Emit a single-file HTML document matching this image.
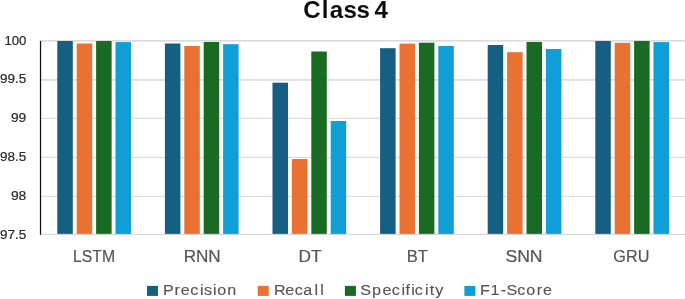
<!DOCTYPE html>
<html lang="en">
<head>
<meta charset="utf-8">
<title>Class 4</title>
<style>
html,body{margin:0;padding:0;background:#fff;}
body{width:685px;height:299px;overflow:hidden;}
svg{display:block;}
text{font-family:"Liberation Sans",sans-serif;}
.ax{font-size:11.9px;fill:#2b2b2b;stroke:#2b2b2b;stroke-width:0.2px;}
.cat{font-size:16px;fill:#555555;stroke:#555555;stroke-width:0.2px;}
.leg{font-size:15.5px;fill:#555555;stroke:#555555;stroke-width:0.15px;}
.title{font-size:23.4px;font-weight:bold;fill:#0d0d0d;}
</style>
</head>
<body>
<svg width="685" height="299" viewBox="0 0 685 299">
<rect x="0" y="0" width="685" height="299" fill="#ffffff"/>
<g id="gridlines">
<rect x="40.5" y="40.05" width="645" height="1.6" fill="#dbdbdb"/>
<rect x="40.5" y="79.10" width="645" height="1.6" fill="#dbdbdb"/>
<rect x="40.5" y="117.80" width="645" height="1.2" fill="#dbdbdb"/>
<rect x="40.5" y="156.80" width="645" height="1.2" fill="#dbdbdb"/>
<rect x="40.5" y="195.80" width="645" height="1.1" fill="#dbdbdb"/>
<rect x="40.5" y="233.85" width="645" height="1.1" fill="#d6d6d6"/>
</g>
<g id="bars">
<rect x="57.30" y="41.00" width="15.5" height="192.90" fill="#156082"/>
<rect x="76.70" y="43.50" width="15.5" height="190.40" fill="#E97132"/>
<rect x="96.10" y="41.00" width="15.5" height="192.90" fill="#196B24"/>
<rect x="115.50" y="42.10" width="15.5" height="191.80" fill="#0F9ED5"/>
<rect x="164.90" y="43.50" width="15.5" height="190.40" fill="#156082"/>
<rect x="184.30" y="46.00" width="15.5" height="187.90" fill="#E97132"/>
<rect x="203.70" y="42.00" width="15.5" height="191.90" fill="#196B24"/>
<rect x="223.10" y="44.20" width="15.5" height="189.70" fill="#0F9ED5"/>
<rect x="272.50" y="82.70" width="15.5" height="151.20" fill="#156082"/>
<rect x="291.90" y="159.00" width="15.5" height="74.90" fill="#E97132"/>
<rect x="311.30" y="51.50" width="15.5" height="182.40" fill="#196B24"/>
<rect x="330.70" y="121.00" width="15.5" height="112.90" fill="#0F9ED5"/>
<rect x="380.10" y="48.20" width="15.5" height="185.70" fill="#156082"/>
<rect x="399.50" y="43.60" width="15.5" height="190.30" fill="#E97132"/>
<rect x="418.90" y="42.70" width="15.5" height="191.20" fill="#196B24"/>
<rect x="438.30" y="46.00" width="15.5" height="187.90" fill="#0F9ED5"/>
<rect x="487.70" y="45.00" width="15.5" height="188.90" fill="#156082"/>
<rect x="507.10" y="52.20" width="15.5" height="181.70" fill="#E97132"/>
<rect x="526.50" y="42.00" width="15.5" height="191.90" fill="#196B24"/>
<rect x="545.90" y="49.00" width="15.5" height="184.90" fill="#0F9ED5"/>
<rect x="595.30" y="41.00" width="15.5" height="192.90" fill="#156082"/>
<rect x="614.70" y="42.80" width="15.5" height="191.10" fill="#E97132"/>
<rect x="634.10" y="41.00" width="15.5" height="192.90" fill="#196B24"/>
<rect x="653.50" y="42.10" width="15.5" height="191.80" fill="#0F9ED5"/>
</g>
<g id="axes">
<rect x="39.9" y="40.9" width="1.25" height="193.8" fill="#111111"/>
<text class="ax" x="4.40" y="45.06" textLength="21.9" lengthAdjust="spacingAndGlyphs">100</text>
<text class="ax" x="0.10" y="83.36" textLength="26.2" lengthAdjust="spacingAndGlyphs">99.5</text>
<text class="ax" x="10.90" y="122.26" textLength="15.4" lengthAdjust="spacingAndGlyphs">99</text>
<text class="ax" x="0.10" y="161.16" textLength="26.2" lengthAdjust="spacingAndGlyphs">98.5</text>
<text class="ax" x="10.90" y="200.06" textLength="15.4" lengthAdjust="spacingAndGlyphs">98</text>
<text class="ax" x="0.10" y="238.86" textLength="26.2" lengthAdjust="spacingAndGlyphs">97.5</text>
<text class="cat" x="73.10" y="262.3" textLength="42.0" lengthAdjust="spacingAndGlyphs">LSTM</text>
<text class="cat" x="183.65" y="262.3" textLength="37.1" lengthAdjust="spacingAndGlyphs">RNN</text>
<text class="cat" x="298.60" y="262.3" textLength="23.0" lengthAdjust="spacingAndGlyphs">DT</text>
<text class="cat" x="406.70" y="262.3" textLength="21.2" lengthAdjust="spacingAndGlyphs">BT</text>
<text class="cat" x="505.40" y="262.3" textLength="37.2" lengthAdjust="spacingAndGlyphs">SNN</text>
<text class="cat" x="613.35" y="262.3" textLength="36.1" lengthAdjust="spacingAndGlyphs">GRU</text>
</g>
<g id="chart-title">
<text class="title" transform="translate(0,17.5) scale(1.03,1)" x="294.50 312.44 320.16 333.42 346.13 359.22 363.72" y="0">Class 4</text>
</g>
<g id="legend">
<rect x="147" y="285.9" width="11" height="10" fill="#156082"/>
<text class="leg" transform="translate(0,295) scale(1.04,1)" x="156.86 167.75 173.78 182.92 192.32 196.14 204.72 208.81 218.61" y="0">Precision</text>
<rect x="257.7" y="285.9" width="11" height="10" fill="#E97132"/>
<text class="leg" transform="translate(0,295) scale(1.04,1)" x="263.45 274.26 283.40 291.61 302.51 307.99" y="0">Recall</text>
<rect x="344.9" y="285.9" width="11" height="10" fill="#196B24"/>
<text class="leg" transform="translate(0,295) scale(1.04,1)" x="346.42 357.82 367.82 376.72 386.12 389.89 395.35 398.88 408.71 413.12 418.62" y="0">Specificity</text>
<rect x="464.4" y="285.9" width="11" height="10" fill="#0F9ED5"/>
<text class="leg" transform="translate(0,295) scale(1.04,1)" x="461.58 471.58 481.46 486.95 497.44 506.07 516.02 522.05" y="0">F1-Score</text>
</g>
</svg>
</body>
</html>
